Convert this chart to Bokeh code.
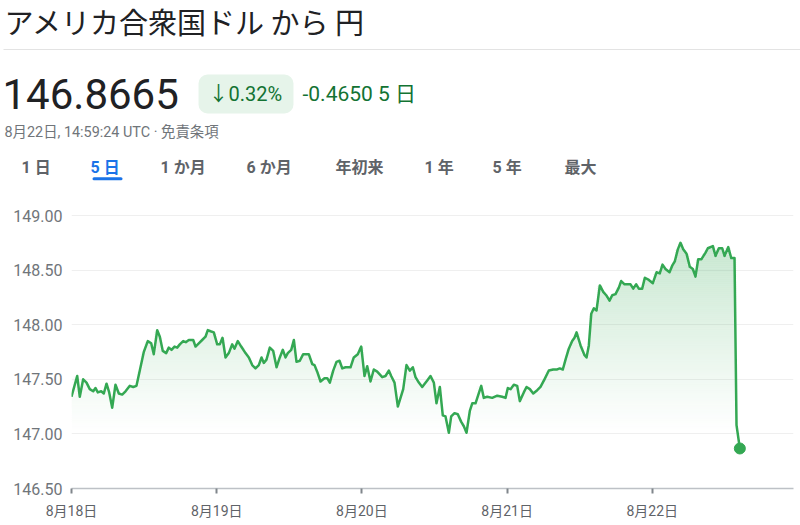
import numpy as np
from bokeh.plotting import figure
from bokeh.layouts import column
from bokeh.models import Range1d, FixedTicker, BoxAnnotation
from bokeh.core.properties import value
from bokeh.embed import file_html
from bokeh.resources import INLINE

# ---------------- data ----------------
hours = [0.00, 0.94, 1.37, 1.93, 2.48, 3.02, 3.59, 3.97, 4.35, 4.91, 5.34, 5.79, 6.23, 6.73, 7.27,
         7.82, 8.38, 8.93, 9.64, 10.20, 10.74, 11.29, 11.95, 12.61, 13.17, 13.60, 14.17, 14.60,
         15.09, 15.65, 16.08, 16.53, 17.03, 17.47, 17.90, 18.46, 18.89, 19.39, 20.12, 20.50,
         21.04, 21.60, 22.15, 22.53, 22.98, 23.52, 24.08, 24.51, 24.96, 25.46, 26.00, 26.56,
         26.94, 27.49, 28.05, 28.76, 29.31, 29.87, 30.41, 30.96, 31.41, 31.79, 32.23, 32.78,
         33.34, 33.89, 34.43, 34.93, 35.37, 35.75, 36.32, 36.75, 37.19, 37.74, 38.30, 39.22,
         39.79, 40.17, 40.61, 41.16, 41.82, 42.27, 42.70, 43.26, 43.80, 44.30, 44.75, 45.29,
         46.12, 46.66, 47.32, 47.89, 48.43, 48.88, 49.42, 49.97, 50.53, 51.36, 51.90, 52.45,
         52.84, 53.39, 53.94,
         54.83, 55.37, 55.92, 56.42, 56.86, 57.41, 57.97, 58.80, 59.34, 59.89, 60.33, 60.88,
         61.37, 61.82, 62.37, 62.76, 63.31, 63.85, 64.42, 64.85, 65.29, 65.84, 66.24, 66.78,
         67.72, 68.15, 68.71, 69.54, 70.37, 71.19, 71.74, 72.12, 72.57, 73.11, 73.67, 74.10,
         74.76, 75.21, 75.76, 76.32, 76.98, 77.52, 78.18, 78.90, 79.62, 80.28, 80.71, 81.21,
         81.66, 82.20, 82.76, 83.14, 83.48, 84.14, 84.80, 85.13, 85.51, 85.91, 86.34, 86.78,
         87.33, 87.89, 88.38, 88.93, 89.38, 89.92, 90.47, 90.86, 91.41, 92.40, 92.85, 93.34,
         93.77, 94.33, 94.77, 95.43, 96.09, 96.70, 97.24, 97.69, 98.18, 98.85, 99.29, 99.72,
         100.22, 100.66, 101.11, 101.66, 102.20, 102.70, 103.14, 103.59, 104.13, 104.80,
         105.18, 106.01, 106.45, 107.00, 107.56, 107.94, 108.55, 109.05, 109.59, 109.92, 110.47]

rates = [147.34, 147.53, 147.34, 147.50, 147.47, 147.41, 147.39, 147.42, 147.38, 147.39, 147.37,
         147.46, 147.38, 147.24, 147.45, 147.37, 147.36, 147.39, 147.44, 147.43, 147.44, 147.58,
         147.75, 147.85, 147.83, 147.73, 147.95, 147.89, 147.76, 147.74, 147.79, 147.77, 147.80,
         147.79, 147.82, 147.85, 147.84, 147.86, 147.86, 147.80, 147.83, 147.86, 147.89, 147.95,
         147.94, 147.93, 147.82, 147.82, 147.88, 147.70, 147.74, 147.82, 147.78, 147.85, 147.80,
         147.74, 147.70, 147.63, 147.60, 147.63, 147.70, 147.65, 147.68, 147.79, 147.76, 147.61,
         147.70, 147.77, 147.70, 147.74, 147.77, 147.86, 147.66, 147.67, 147.73, 147.73, 147.64,
         147.63, 147.57, 147.48, 147.51, 147.51, 147.47, 147.58, 147.66, 147.67, 147.60, 147.61,
         147.61, 147.70, 147.73, 147.80, 147.53, 147.62, 147.48, 147.59, 147.57, 147.52, 147.53,
         147.58, 147.53, 147.47, 147.25,
         147.41, 147.63, 147.58, 147.61, 147.52, 147.47, 147.43, 147.49, 147.53, 147.47, 147.28,
         147.43, 147.17, 147.16, 147.01, 147.16, 147.19, 147.18, 147.11, 147.07, 147.01, 147.21,
         147.28, 147.28, 147.44, 147.33, 147.34, 147.33, 147.35, 147.34, 147.33, 147.42, 147.41,
         147.45, 147.44, 147.30, 147.38, 147.43, 147.41, 147.37, 147.40, 147.43, 147.50, 147.58,
         147.59, 147.59, 147.60, 147.59, 147.68, 147.78, 147.85, 147.88, 147.93, 147.81, 147.72,
         147.70, 147.81, 148.10, 148.15, 148.13, 148.36, 148.30, 148.27, 148.22, 148.27, 148.28,
         148.34, 148.40, 148.37, 148.37, 148.33, 148.37, 148.33, 148.33, 148.43, 148.41, 148.38,
         148.48, 148.47, 148.55, 148.51, 148.48, 148.54, 148.58, 148.69, 148.75, 148.69, 148.65,
         148.53, 148.51, 148.44, 148.60, 148.60, 148.66, 148.70, 148.72, 148.63, 148.70, 148.70,
         148.63, 148.71, 148.61, 148.61, 147.08, 146.8665]

x_ticks = [0, 24, 48, 72, 96]
x_tick_labels = ["8月18日", "8月19日", "8月20日", "8月21日", "8月22日"]
y_ticks = [146.5, 147.0, 147.5, 148.0, 148.5, 149.0]
y_tick_labels = ["146.50", "147.00", "147.50", "148.00", "148.50", "149.00"]

title = "アメリカ合衆国ドル から 円"
price = "146.8665"
pct_change = "↓0.32%"
abs_change = "-0.4650 5 日"
subtitle = "8月22日, 14:59:24 UTC · 免責条項"
tabs = ["1 日", "5 日", "1 か月", "6 か月", "年初来", "1 年", "5 年", "最大"]
active_tab = "5 日"

GREEN = "#34a853"
DKGREEN = "#137333"
FONT = "Roboto, Noto Sans CJK JP"
JP = "Noto Sans CJK JP"

# ---------------- header (canvas pixels: x right, y measured upward from bottom) ----------------
W = 800
H1 = 196
hdr = figure(width=W, height=H1, x_range=Range1d(0, W), y_range=Range1d(0, H1),
             output_backend="svg", toolbar_location=None, frame_align=False,
             min_border_left=0, min_border_right=0, min_border_top=0, min_border_bottom=0,
             x_axis_location=None, y_axis_location=None, outline_line_color=None)
hdr.xgrid.visible = False
hdr.ygrid.visible = False

hdr.text(x=[4], y=[H1 - 20], text=[title], text_font=value(JP), text_font_size="29px",
         text_color="#202124", text_baseline="middle", text_align="left")
hdr.segment(x0=[3], x1=[W], y0=[H1 - 49], y1=[H1 - 49], line_color="#e3e3e3", line_width=1)
hdr.text(x=[2], y=[H1 - 93.5], text=[price], text_font=value("Roboto"), text_font_size="42px",
         text_color="#202124", text_baseline="middle", text_align="left")
hdr.add_layout(BoxAnnotation(left=198, right=293, bottom=H1 - 113, top=H1 - 74,
                             fill_color="#e6f4ea", fill_alpha=1.0, line_color=None,
                             border_radius=9, level="underlay"))
hdr.text(x=[208], y=[H1 - 93], text=[pct_change], text_font=value(FONT), text_font_size="20px",
         text_color=DKGREEN, text_baseline="middle", text_align="left")
hdr.text(x=[302], y=[H1 - 93], text=[abs_change], text_font=value(FONT), text_font_size="21px",
         text_color=DKGREEN, text_baseline="middle", text_align="left")
hdr.text(x=[4], y=[H1 - 132], text=[subtitle], text_font=value(FONT), text_font_size="14.4px",
         text_color="#70757a", text_baseline="middle", text_align="left")

tab_x = [21, 90, 160, 246, 335, 424, 492, 564]
tab_colors = ["#1a73e8" if t == active_tab else "#5f6368" for t in tabs]
hdr.text(x=tab_x, y=[H1 - 166.5] * len(tabs), text=tabs, text_font=value(FONT),
         text_font_size="16px", text_font_style="bold", text_color=tab_colors,
         text_baseline="middle", text_align="left")
hdr.segment(x0=[93.5], x1=[120.5], y0=[H1 - 178.3], y1=[H1 - 178.3], line_color="#1a73e8",
            line_width=3, line_cap="round")

# ---------------- chart ----------------
H2 = 525 - H1
px_per_unit = 109.2
px_per_day = 145.2
frame_top, frame_bottom = 204, 488
frame_left, frame_right = 71, 793
frame_h = frame_bottom - frame_top
y0 = 146.5
p = figure(width=W, height=H2,
           x_range=Range1d(0, (frame_right - frame_left) / px_per_day * 24),
           y_range=Range1d(y0, y0 + frame_h / px_per_unit),
           output_backend="svg", toolbar_location=None, frame_align=False,
           min_border_left=frame_left, min_border_right=W - frame_right,
           min_border_top=frame_top - H1, min_border_bottom=525 - frame_bottom,
           outline_line_color=None)

hrs = np.array(hours)
val = np.array(rates)

# vertical gradient under the line: pixel-aligned bands, each with its own opacity
band_px = 2
top_val = float(val.max())
n_bands = int(np.ceil((top_val - y0) * px_per_unit / band_px))
for k in range(n_bands):
    lo = y0 + k * band_px / px_per_unit
    hi = y0 + (k + 1) * band_px / px_per_unit
    mid = 0.5 * (lo + hi)
    alpha = 0.28 * float(np.clip((mid - 147.0) / (148.75 - 147.0), 0, 1)) ** 1.1
    if alpha <= 0.004:
        continue
    p.varea(x=hrs, y1=lo, y2=np.clip(val, lo, hi), fill_color=GREEN, fill_alpha=alpha)

p.line(hrs, val, line_color=GREEN, line_width=2.5, line_join="round")
p.scatter([hours[-1]], [rates[-1]], size=11, fill_color=GREEN, line_color=GREEN)

p.xgrid.visible = False
p.ygrid.ticker = FixedTicker(ticks=y_ticks)
p.ygrid.grid_line_color = "#efefef"
p.ygrid.grid_line_width = 1

p.xaxis.ticker = FixedTicker(ticks=x_ticks)
p.xaxis.major_label_overrides = dict(zip(x_ticks, x_tick_labels))
p.xaxis.axis_line_color = "#bdc1c6"
p.xaxis.axis_line_width = 1.5
p.xaxis.major_tick_line_color = "#80868b"
p.xaxis.major_tick_line_width = 2
p.xaxis.major_tick_in = 0
p.xaxis.major_tick_out = 5
p.xaxis.minor_tick_line_color = None
p.xaxis.major_label_standoff = 9
p.xaxis.major_label_text_font = FONT
p.xaxis.major_label_text_font_size = "14px"
p.xaxis.major_label_text_color = "#5f6368"

p.yaxis.ticker = FixedTicker(ticks=y_ticks)
p.yaxis.major_label_overrides = dict(zip(y_ticks, y_tick_labels))
p.yaxis.axis_line_color = None
p.yaxis.major_tick_line_color = None
p.yaxis.minor_tick_line_color = None
p.yaxis.major_tick_in = 0
p.yaxis.major_tick_out = 0
p.yaxis.major_label_standoff = 9
p.yaxis.major_label_text_font = FONT
p.yaxis.major_label_text_font_size = "16px"
p.yaxis.major_label_text_color = "#70757a"

layout = column(hdr, p, spacing=0)
open("out.html", "w").write(file_html(layout, INLINE))
